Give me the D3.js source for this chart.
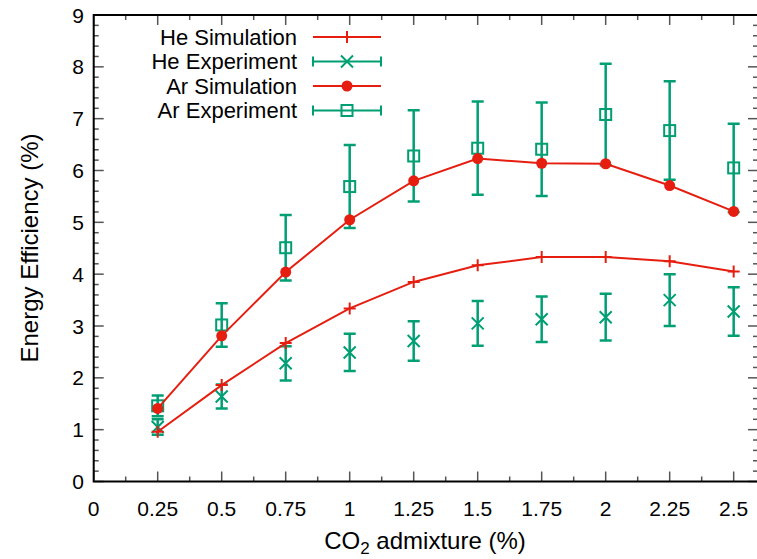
<!DOCTYPE html>
<html><head><meta charset="utf-8">
<script src="https://cdn.jsdelivr.net/npm/d3@7"></script>
<style>body{margin:0;background:#fff}svg{display:block}text{font-family:"Liberation Sans",Arial,Helvetica,sans-serif}</style>
</head><body>
<svg id="c" width="757" height="559"></svg>
<script>
const co2 = [0.25, 0.5, 0.75, 1.0, 1.25, 1.5, 1.75, 2.0, 2.25, 2.5];
const heSim = [0.96, 1.86, 2.67, 3.34, 3.85, 4.17, 4.33, 4.33, 4.25, 4.05];
const heExp = [1.05, 1.64, 2.28, 2.49, 2.71, 3.05, 3.13, 3.17, 3.50, 3.28];
const heErr = [0.15, 0.23, 0.33, 0.36, 0.38, 0.43, 0.44, 0.45, 0.50, 0.47];
const arSim = [1.41, 2.81, 4.04, 5.05, 5.80, 6.23, 6.14, 6.13, 5.71, 5.21];
const arExp = [1.46, 3.02, 4.51, 5.69, 6.28, 6.43, 6.41, 7.08, 6.77, 6.05];
const arErr = [0.20, 0.42, 0.63, 0.80, 0.88, 0.90, 0.90, 0.98, 0.95, 0.85];
const xTicks = [0, 0.25, 0.5, 0.75, 1, 1.25, 1.5, 1.75, 2, 2.25, 2.5];
const xTickLabels = ["0","0.25","0.5","0.75","1","1.25","1.5","1.75","2","2.25","2.5"];
const yTicks = [0,1,2,3,4,5,6,7,8,9];
const legendLabels = ["He Simulation","He Experiment","Ar Simulation","Ar Experiment"];

const RED = "#e51e10", GREEN = "#009e73";
const svg = d3.select("#c");
const L = 93.7, R = 758, T = 15, B = 481.5;
const x = d3.scaleLinear().domain([0, 2.595]).range([L, R]);
const y = d3.scaleLinear().domain([0, 9]).range([B, T]);

// ticks
const tickG = svg.append("g").attr("stroke", "#555").attr("stroke-width", 1.5);
const xMinor = d3.range(0, 2.6, 0.125);
xMinor.forEach(v => {
  const major = Math.abs(v / 0.25 - Math.round(v / 0.25)) < 1e-6;
  const len = major ? 10 : 5;
  tickG.append("line").attr("x1", x(v)).attr("x2", x(v)).attr("y1", B).attr("y2", B - len);
  tickG.append("line").attr("x1", x(v)).attr("x2", x(v)).attr("y1", T).attr("y2", T + len);
});
d3.range(0, 9.001, 0.2).forEach(v => {
  const major = Math.abs(v - Math.round(v)) < 1e-6;
  const len = major ? 10 : 5;
  tickG.append("line").attr("x1", L).attr("x2", L + len).attr("y1", y(v)).attr("y2", y(v));
  tickG.append("line").attr("x1", R).attr("x2", R - len).attr("y1", y(v)).attr("y2", y(v));
});

// frame
svg.append("rect").attr("x", L).attr("y", T).attr("width", R - L).attr("height", B - T)
  .attr("fill", "none").attr("stroke", "#000").attr("stroke-width", 2);

// tick labels
const tfs = 21, fs = 24, lfs = 22;
xTicks.forEach((v, i) => {
  svg.append("text").attr("x", x(v)).attr("y", 516).attr("text-anchor", "middle")
    .attr("font-size", tfs).text(xTickLabels[i]);
});
yTicks.forEach(v => {
  svg.append("text").attr("x", 84).attr("y", y(v) + 7.5).attr("text-anchor", "end")
    .attr("font-size", tfs).text(v);
});
// axis titles
const xt = svg.append("text").attr("x", 425).attr("y", 549).attr("text-anchor", "middle").attr("font-size", fs);
xt.append("tspan").text("CO");
xt.append("tspan").attr("font-size", 17).attr("dy", 5).text("2");
xt.append("tspan").attr("dy", -5).text(" admixture (%)");
svg.append("text").attr("transform", "translate(38,248) rotate(-90)").attr("text-anchor", "middle")
  .attr("font-size", fs).text("Energy Efficiency (%)");

// markers
function plus(g, cx, cy, s) {
  g.append("path").attr("d", `M${cx - s},${cy}H${cx + s}M${cx},${cy - s}V${cy + s}`)
    .attr("stroke", RED).attr("stroke-width", 2).attr("fill", "none");
}
function cross(g, cx, cy, s) {
  g.append("path").attr("d", `M${cx - s},${cy - s}L${cx + s},${cy + s}M${cx - s},${cy + s}L${cx + s},${cy - s}`)
    .attr("stroke", GREEN).attr("stroke-width", 2).attr("fill", "none");
}
function square(g, cx, cy, s) {
  g.append("rect").attr("x", cx - s).attr("y", cy - s).attr("width", 2 * s).attr("height", 2 * s)
    .attr("stroke", GREEN).attr("stroke-width", 2).attr("fill", "none");
}
function dot(g, cx, cy, r) {
  g.append("circle").attr("cx", cx).attr("cy", cy).attr("r", r).attr("fill", RED);
}
function errbar(g, cx, lo, hi) {
  g.append("path").attr("d", `M${cx},${y(lo)}V${y(hi)}M${cx - 6},${y(lo)}H${cx + 6}M${cx - 6},${y(hi)}H${cx + 6}`)
    .attr("stroke", GREEN).attr("stroke-width", 2.5).attr("fill", "none");
}

const line = d3.line().x(d => x(d[0])).y(d => y(d[1]));
const plot = svg.append("g");

co2.forEach((c, i) => { errbar(plot, x(c), heExp[i] - heErr[i], heExp[i] + heErr[i]); cross(plot, x(c), y(heExp[i]), 6); });
co2.forEach((c, i) => { errbar(plot, x(c), arExp[i] - arErr[i], arExp[i] + arErr[i]); square(plot, x(c), y(arExp[i]), 5.5); });
plot.append("path").datum(co2.map((c, i) => [c, heSim[i]])).attr("d", line)
  .attr("fill", "none").attr("stroke", RED).attr("stroke-width", 2);
co2.forEach((c, i) => plus(plot, x(c), y(heSim[i]), 6));
plot.append("path").datum(co2.map((c, i) => [c, arSim[i]])).attr("d", line)
  .attr("fill", "none").attr("stroke", RED).attr("stroke-width", 2);
co2.forEach((c, i) => dot(plot, x(c), y(arSim[i]), 5.5));

// legend
const lg = svg.append("g");
const rowsY = [37, 61.5, 86, 110.5];
const x1 = 313, x2 = 381, xm = 347;
legendLabels.forEach((lab, i) => {
  const yy = rowsY[i];
  lg.append("text").attr("x", 297).attr("y", yy + 7.5).attr("text-anchor", "end").attr("font-size", lfs).text(lab);
  if (i % 2 === 0) {
    lg.append("line").attr("x1", x1).attr("x2", x2).attr("y1", yy).attr("y2", yy).attr("stroke", RED).attr("stroke-width", 2);
    if (i === 0) plus(lg, xm, yy, 6); else dot(lg, xm, yy, 5.5);
  } else {
    lg.append("path").attr("d", `M${x1},${yy}H${x2}M${x1},${yy - 5}V${yy + 5}M${x2},${yy - 5}V${yy + 5}`)
      .attr("stroke", GREEN).attr("stroke-width", 2).attr("fill", "none");
    if (i === 1) cross(lg, xm, yy, 6); else square(lg, xm, yy, 5.5);
  }
});
</script>
</body></html>
